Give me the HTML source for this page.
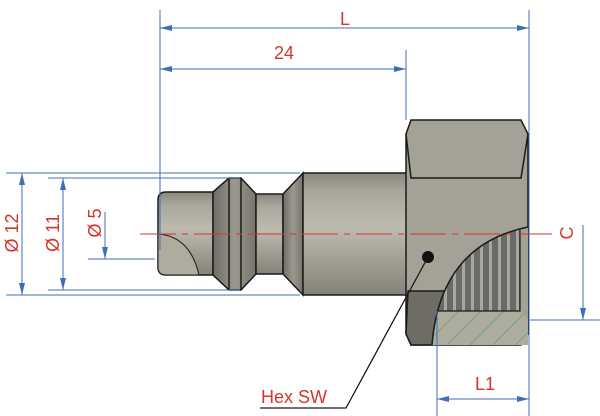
<!DOCTYPE html>
<html><head><meta charset="utf-8"><style>
html,body{margin:0;padding:0;background:#fff;}
svg{display:block}
text{font-family:"Liberation Sans",sans-serif;fill:#d6352b}
</style></head><body>
<svg width="600" height="416" viewBox="0 0 600 416" xmlns="http://www.w3.org/2000/svg">
<defs>
<linearGradient id="g" x1="0" y1="0" x2="0" y2="1">
<stop offset="0" stop-color="#8a887c"/><stop offset="0.15" stop-color="#a9a79b"/>
<stop offset="0.45" stop-color="#bdbbaf"/><stop offset="0.75" stop-color="#9e9c90"/>
<stop offset="1" stop-color="#858378"/></linearGradient>
<linearGradient id="gd" x1="0" y1="0" x2="1" y2="0">
<stop offset="0" stop-color="#6e6c63"/><stop offset="0.5" stop-color="#9b998d"/><stop offset="1" stop-color="#77756b"/></linearGradient>
<pattern id="th" width="9" height="10" patternUnits="userSpaceOnUse">
<rect width="9" height="10" fill="#6a6a66"/><rect x="3" width="3" height="10" fill="#a8a8a2"/></pattern>
<pattern id="ht" width="16" height="16" patternUnits="userSpaceOnUse" patternTransform="rotate(45)">
<rect width="16" height="16" fill="#aeac9f"/><line x1="0" y1="0" x2="0" y2="16" stroke="#3f9a5a" stroke-width="1"/></pattern>
<clipPath id="cut"><path d="M432,345 Q440,245 528,227 L528,345 Z"/></clipPath>
<marker id="a" markerWidth="12" markerHeight="8" refX="12" refY="4" orient="auto" markerUnits="userSpaceOnUse">
<path d="M0,1 L12,4 L0,7 Z" fill="#3c6fb5"/></marker>
<marker id="b" markerWidth="12" markerHeight="8" refX="0" refY="4" orient="auto" markerUnits="userSpaceOnUse">
<path d="M12,1 L0,4 L12,7 Z" fill="#3c6fb5"/></marker>
</defs>
<g stroke="#1a1a1a" stroke-width="1.5">
<path d="M213,192 L166,192 Q158,192 158,200 L158,267 Q158,275 166,275 L213,275 Z" fill="url(#g)"/>
<path d="M158,234 Q190,236 199,275 L166,275 Q158,275 158,267 Z" fill="#aeac9f" stroke-width="1"/>
<path d="M213,192 L229,178 L241,178 L256,194 L256,274 L241,290 L229,290 L213,275 Z" fill="url(#gd)"/>
<line x1="229" y1="178" x2="229" y2="290"/><line x1="241" y1="178" x2="241" y2="290"/>
<rect x="256" y="194" width="27" height="80" fill="url(#g)"/>
<path d="M283,194 L303,173 L303,295 L283,274 Z" fill="url(#gd)"/>
<rect x="303" y="173" width="105" height="122" fill="url(#g)"/>
<path d="M411,120 L521,120 L528,134 L528,334 L521,345 L411,345 L406,334 L406,134 Z" fill="#a4a296"/>
<path d="M406,134 L411,178 L521,178 L528,134" fill="none"/>
<path d="M408,291 L446,291 Q436,315 432,345 L411,345 L406,334 Z" fill="#6e6c63"/>
<g clip-path="url(#cut)" stroke="none">
<rect x="430" y="220" width="100" height="130" fill="#a4a296"/>
<rect x="437" y="225" width="83" height="86" fill="url(#th)"/>
<path d="M430,311 L520,311 L528,320 L528,345 L430,345 Z" fill="url(#ht)"/>
</g>
<path d="M437,311 L520,311 L520,230" fill="none" stroke-width="1.2"/>
<path d="M432,345 Q440,245 528,227" fill="none"/>
</g>
<circle cx="428" cy="257" r="6" fill="#111"/>
<polyline points="428,257 346,408 260,408" fill="none" stroke="#1a1a1a" stroke-width="1.3"/>
<line x1="140" y1="234" x2="552" y2="234" stroke="#d6352b" stroke-width="1" stroke-dasharray="36,6,6,6"/>
<g stroke="#3c6fb5" stroke-width="1" fill="none">
<line x1="160" y1="10" x2="160" y2="250"/>
<line x1="529" y1="10" x2="529" y2="416"/>
<line x1="406" y1="50" x2="406" y2="120"/>
<line x1="160" y1="28" x2="529" y2="28" marker-start="url(#b)" marker-end="url(#a)"/>
<line x1="160" y1="69" x2="406" y2="69" marker-start="url(#b)" marker-end="url(#a)"/>
<line x1="6" y1="173" x2="300" y2="173"/>
<line x1="6" y1="295" x2="300" y2="295"/>
<line x1="48" y1="178" x2="240" y2="178"/>
<line x1="48" y1="290" x2="240" y2="290"/>
<line x1="22" y1="173" x2="22" y2="295" marker-start="url(#b)" marker-end="url(#a)"/>
<line x1="63" y1="178" x2="63" y2="290" marker-start="url(#b)" marker-end="url(#a)"/>
<line x1="88" y1="259" x2="155" y2="259"/>
<line x1="105" y1="212" x2="105" y2="259" marker-end="url(#a)"/>
<line x1="583" y1="225" x2="583" y2="320" marker-end="url(#a)"/>
<line x1="530" y1="320" x2="600" y2="320"/>
<line x1="437" y1="311" x2="437" y2="416"/>
<line x1="437" y1="399" x2="529" y2="399" marker-start="url(#b)" marker-end="url(#a)"/>
</g>
<text x="345" y="25" font-size="18" text-anchor="middle">L</text>
<text x="284" y="59" font-size="18" text-anchor="middle">24</text>
<text x="485" y="390" font-size="18" text-anchor="middle">L1</text>
<text x="261" y="403" font-size="18">Hex SW</text>
<text transform="translate(18,233) rotate(-90)" font-size="18" text-anchor="middle">Ø 12</text>
<text transform="translate(59,233) rotate(-90)" font-size="18" text-anchor="middle">Ø 11</text>
<text transform="translate(101,223) rotate(-90)" font-size="18" text-anchor="middle">Ø 5</text>
<text transform="translate(573,233) rotate(-90)" font-size="18" text-anchor="middle">C</text>
</svg>
</body></html>
